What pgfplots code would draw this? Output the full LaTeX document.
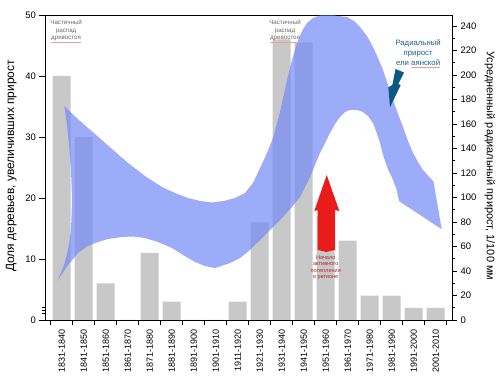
\documentclass[border=0pt]{standalone}
\usepackage{fontspec}
\setmainfont{Liberation Sans}
\usepackage{pgfplots}
\pgfplotsset{compat=1.18}
\definecolor{barg}{RGB}{200,200,200}
\definecolor{bandblue}{RGB}{118,140,246}
\definecolor{darkarrow}{RGB}{12,88,132}
\definecolor{redarrow}{RGB}{232,28,24}
\definecolor{notegray}{RGB}{105,105,105}
\definecolor{noteblue}{RGB}{30,95,140}
\definecolor{notered}{RGB}{176,40,40}
\definecolor{wavy}{RGB}{236,160,160}
\newcommand{\spell}[2]{{\color{wavy}\underline{\textcolor{#1}{#2}}}}
\begin{document}
\begin{tikzpicture}
\begin{axis}[
  name=main,
  scale only axis, width=407bp, height=305bp,
  xmin=-0.76, xmax=17.74, ymin=0, ymax=50,
  axis line style={line width=0.9pt},
  tick align=outside, xtick pos=left, ytick pos=left,
  major tick length=5.5bp, minor tick length=3bp,
  every tick/.style={black, line width=0.9pt},
  xtick={-0.5,0.5,...,17.5},
  x tick label as interval,
  xticklabels={1831-1840,1841-1850,1851-1860,1861-1870,1871-1880,1881-1890,1891-1900,1901-1910,1911-1920,1921-1930,1931-1940,1941-1950,1951-1960,1961-1970,1971-1980,1981-1990,1991-2000,2001-2010},
  xticklabel style={rotate=90, anchor=east, font=\fontsize{9}{10}\selectfont, inner sep=3.5pt},
  ytick={0,10,...,50},
  minor ytick={1,1.5,2},
  yticklabel style={font=\fontsize{9.5}{11}\selectfont},
  /pgf/number format/assume math mode=true,
  ylabel={Доля деревьев, увеличивших прирост},
  ylabel style={at={(axis description cs:-0.083,0.505)}, anchor=center, font=\fontsize{12}{14}\selectfont},
  clip=true,
]
\addplot[ybar, bar width=0.82, fill=barg, draw=none] coordinates {
(0,40) (1,30) (2,6) (3,0) (4,11) (5,3) (6,0) (7,0) (8,3) (9,16)
(10,46) (11,45.5) (12,17) (13,13) (14,4) (15,4) (16,2) (17,2)};
% blue band arrow (radial growth)
\addplot[fill=bandblue, fill opacity=0.72, draw=none] coordinates {
(0.118,35.08) (0.832,32.62) (1.514,30.49) (2.286,28.03) (3.014,25.74)
(3.786,23.61) (4.559,21.80) (5.150,20.82) (5.741,20.00) (6.286,19.51)
(6.832,19.26) (7.377,19.51) (7.877,20.00) (8.332,20.82) (8.695,22.46)
(9.014,24.92) (9.332,27.38) (9.605,29.84) (9.923,34.10) (10.241,39.34)
(10.468,42.62) (10.695,45.41) (10.923,47.38) (11.150,48.69) (11.423,49.51)
(11.741,49.95) (12.332,49.95) (12.968,49.67) (13.286,49.02) (13.559,48.03)
(13.877,46.56) (14.150,44.75) (14.377,42.95) (14.605,40.98) (14.832,38.52)
(15.059,36.07) (15.286,33.77) (15.514,31.64) (15.741,29.34) (15.968,27.38)
(16.195,25.90) (16.423,24.59) (16.90,22.7) (17.273,14.87) (15.33,19.5)
(15.22,21.4) (15.059,22.95) (14.786,25.08) (14.605,27.05) (14.468,29.02) (14.286,30.98)
(14.150,32.30) (13.923,33.44) (13.695,34.10) (13.423,34.43) (13.105,34.43)
(12.877,34.10) (12.650,33.28) (12.423,32.13) (12.195,30.66) (11.968,29.02)
(11.741,27.38) (11.514,25.41) (11.286,23.44) (11.059,21.80) (10.832,20.16)
(10.468,18.52) (10.059,16.89) (9.695,15.57) (9.332,14.26) (8.923,12.79)
(8.559,11.48) (8.105,10.16) (7.650,9.34) (6.968,8.52) (6.514,8.85)
(6.059,9.51) (5.514,10.66) (5.014,11.80) (4.377,12.79) (3.786,13.44)
(3.241,13.69) (2.741,13.61) (2.105,13.28) (1.514,12.62) (1.105,11.97)
(0.741,10.98) (0.286,9.02) (-0.200,6.39)
(0.105,9.02) (0.286,11.48) (0.423,14.75) (0.468,19.67) (0.423,24.59)
(0.332,28.69) (0.241,31.97)} -- cycle;
% red arrow
\addplot[fill=redarrow, draw=none] coordinates {
(11.636,11.48) (11.636,18.03) (11.482,17.87) (12.045,23.77) (12.618,17.87)
(12.423,18.03) (12.423,11.48) (12.03,11.15)} -- cycle;
% dark blue arrow
\addplot[fill=darkarrow, draw=none] coordinates {
(15.173,41.15) (15.559,40.57) (15.300,38.69) (15.409,38.52) (14.923,34.87)
(14.845,38.15) (15.027,38.52)} -- cycle;
\node[align=center, anchor=north, text=notegray, font=\fontsize{6.2}{7.4}\selectfont, inner sep=0pt]
  at (axis cs:0.2,49.2) {Частичный\\распад\\\spell{notegray}{древостоя}};
\node[align=center, anchor=north, text=notegray, font=\fontsize{6.2}{7.4}\selectfont, inner sep=0pt]
  at (axis cs:10.15,49.2) {Частичный\\распад\\\spell{notegray}{древостоя}};
\node[align=center, anchor=north, text=noteblue, font=\fontsize{7.8}{9.8}\selectfont, inner sep=0pt]
  at (axis cs:16.2,45.9) {Радиальный\\прирост\\ели \spell{noteblue}{аянской}};
\node[align=center, anchor=north, text=notered, font=\fontsize{5.6}{6.4}\selectfont, inner sep=0pt]
  at (axis cs:12.0,10.6) {Начало\\активного\\потепления\\в регионе};
\end{axis}
\begin{axis}[
  scale only axis, width=407bp, height=305bp,
  xmin=-0.76, xmax=17.74, ymin=0, ymax=249,
  axis x line=none, axis y line*=right,
  axis line style={line width=0.9pt},
  tick align=outside,
  major tick length=5bp, minor tick length=3bp,
  every tick/.style={black, line width=0.9pt},
  ytick={0,20,...,240},
  minor ytick={10,30,...,230},
  yticklabel style={font=\fontsize{9.5}{11}\selectfont},
  /pgf/number format/assume math mode=true,
  ylabel={Усредненный радиальный прирост, 1/100 мм},
  ylabel style={at={(axis description cs:1.093,0.505)}, anchor=center, rotate=180, font=\fontsize{11}{13}\selectfont},
]
\end{axis}
\pgfresetboundingbox
\path ([shift={(-45bp,-61bp)}]main.south west) rectangle ([shift={(48bp,15bp)}]main.north east);
\end{tikzpicture}
\end{document}
